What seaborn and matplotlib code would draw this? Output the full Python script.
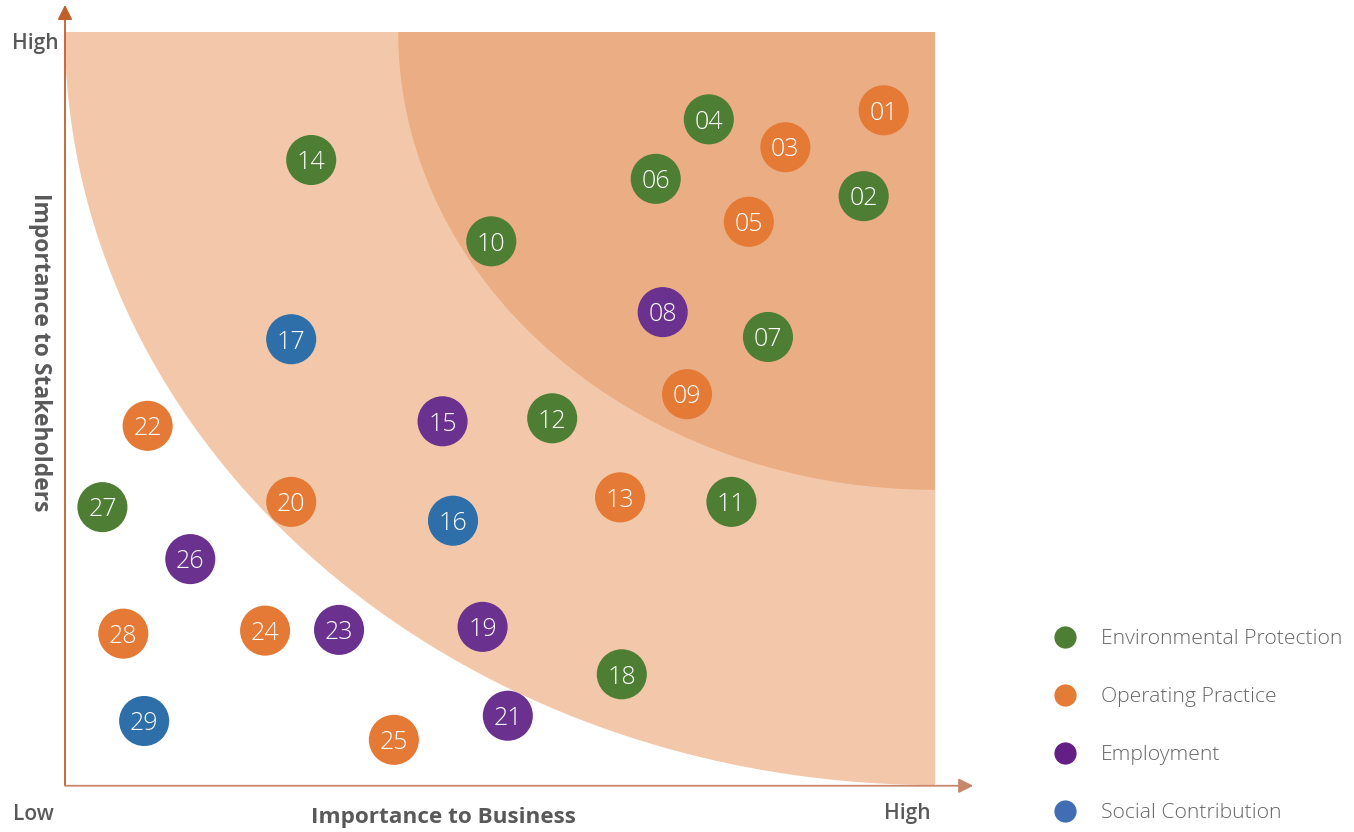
import numpy as np
import pandas as pd
import matplotlib
matplotlib.use("Agg")
import matplotlib.pyplot as plt
from matplotlib.lines import Line2D
import seaborn as sns

# ---------------- data ----------------
ids = ["01", "02", "03", "04", "05", "06", "07", "08", "09", "10",
       "11", "12", "13", "14", "15", "16", "17", "18", "19", "20",
       "21", "22", "23", "24", "25", "26", "27", "28", "29"]
business = [94.1, 91.8, 82.8, 74.0, 78.6, 67.9, 80.8, 68.7, 71.5, 49.0,
            76.6, 56.0, 63.8, 28.3, 43.4, 44.6, 26.0, 64.0, 48.0, 26.0,
            50.9, 9.5, 31.5, 23.0, 37.8, 14.4, 4.3, 6.7, 9.1]
stakeholders = [89.6, 78.2, 84.7, 88.4, 74.8, 80.5, 59.5, 62.8, 51.9, 72.2,
                37.6, 48.7, 38.2, 83.0, 48.3, 35.1, 59.2, 14.7, 21.0, 37.6,
                9.2, 47.7, 20.6, 20.5, 6.0, 30.0, 36.9, 20.1, 8.5]
category = ["Operating Practice", "Environmental Protection", "Operating Practice",
            "Environmental Protection", "Operating Practice", "Environmental Protection",
            "Environmental Protection", "Employment", "Operating Practice",
            "Environmental Protection", "Environmental Protection", "Environmental Protection",
            "Operating Practice", "Environmental Protection", "Employment",
            "Social Contribution", "Social Contribution", "Environmental Protection",
            "Employment", "Operating Practice", "Employment", "Operating Practice",
            "Employment", "Operating Practice", "Operating Practice", "Employment",
            "Environmental Protection", "Operating Practice", "Social Contribution"]
categories = ["Environmental Protection", "Operating Practice", "Employment", "Social Contribution"]
bubble_colors = ["#4e7e33", "#e47a35", "#6a318e", "#2e6ea9"]
legend_colors = ["#4e7e33", "#e57c36", "#631f84", "#406db4"]

df = pd.DataFrame({"id": ids, "business": business, "stakeholders": stakeholders,
                   "category": category})

# ---------------- style ----------------
sns.set_theme(style="white")
plt.rcParams["font.family"] = ["Open Sans", "DejaVu Sans"]

W, H = 1354, 832
fig = plt.figure(figsize=(W / 100, H / 100), dpi=100)
ax = fig.add_axes([65 / W, (H - 785) / H, 870 / W, 753 / H])
ax.set_xlim(0, 100)
ax.set_ylim(0, 100)
ax.axis("off")

# shaded zones: quarter ellipses centred at top-right corner
t = np.linspace(0, np.pi / 2, 200)
light_x = np.concatenate([[100], 100 - 100 * np.cos(t)])
light_y = np.concatenate([[100], 100 - 100 * np.sin(t)])
ax.fill(light_x, light_y, color="#f3c8aa", lw=0, zorder=1)
dark_x = np.concatenate([[100], 100 - 61.7 * np.cos(t)])
dark_y = np.concatenate([[100], 100 - 60.8 * np.sin(t)])
ax.fill(dark_x, dark_y, color="#ebad84", lw=0, zorder=2)

# bubbles
sns.scatterplot(data=df, x="business", y="stakeholders", hue="category",
                hue_order=categories, palette=bubble_colors, s=1300,
                linewidth=0, legend=False, ax=ax, zorder=3, clip_on=False)
for _, r in df.iterrows():
    ax.annotate(r["id"], (r["business"], r["stakeholders"]), xytext=(0, -2),
                textcoords="offset points", color="white",
                fontsize=18, fontweight="light", ha="center", va="center",
                zorder=4)

# axes arrows
ax.annotate("", xy=(0, 1.036), xytext=(0, 0), xycoords="axes fraction",
            arrowprops=dict(arrowstyle="-|>", color="#c0602a", lw=1.3,
                            mutation_scale=22, shrinkA=0, shrinkB=0))
ax.annotate("", xy=(1.044, -0.001), xytext=(0, -0.001), xycoords="axes fraction",
            arrowprops=dict(arrowstyle="-|>", color="#c8866a", lw=1.3,
                            mutation_scale=22, shrinkA=0, shrinkB=0))

# axis texts
tc = "#595959"
fig.text(35 / W, 1 - 44 / H, "High", ha="center", va="center", fontsize=15,
         color=tc, fontweight="semibold")
fig.text(33 / W, 1 - 814 / H, "Low", ha="center", va="center", fontsize=15,
         color=tc, fontweight="semibold")
fig.text(907 / W, 1 - 814 / H, "High", ha="center", va="center", fontsize=15,
         color=tc, fontweight="semibold")
fig.text(443 / W, 1 - 817 / H, "Importance to Business", ha="center", va="center",
         fontsize=16.2, color=tc, fontweight="bold")
fig.text(40 / W, 1 - 352 / H, "Importance to Stakeholders", ha="center", va="center",
         fontsize=16.5, color=tc, fontweight="bold", rotation=270)

# legend
for i, (lab, col) in enumerate(zip(categories, legend_colors)):
    y = 1 - (637 + 58 * i) / H
    fig.add_artist(Line2D([1065 / W], [y], marker="o", markersize=16,
                          markerfacecolor=col, markeredgewidth=0, linestyle="",
                          transform=fig.transFigure))
    fig.text(1101 / W, y - 2 / H, lab, ha="left", va="center", fontsize=15.2,
             color="#666666", fontweight="light")

fig.savefig("out.png", dpi=100)
